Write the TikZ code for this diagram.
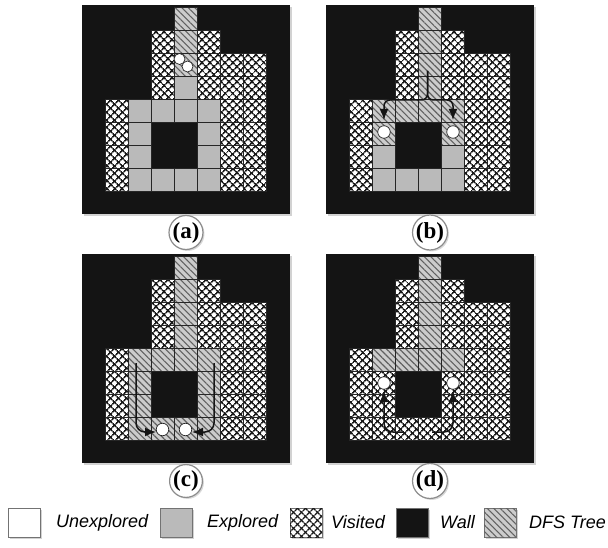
\documentclass[tikz,border=0pt]{standalone}
\usepackage{fontspec}
\setmainfont{Liberation Serif}
\newfontfamily\legfont{Liberation Sans}
\usetikzlibrary{patterns.meta,shadows,arrows.meta}
\tikzset{
  panelbox/.style={fill=black!92, minimum width=208pt, minimum height=209pt, inner sep=0pt,
    drop shadow={shadow xshift=2pt, shadow yshift=-2pt, opacity=0.35}},
  vis/.style={fill=white,
    postaction={pattern={Lines[angle=45,distance=5.4pt,line width=1.6pt]}, pattern color=black!90},
    postaction={pattern={Lines[angle=-45,distance=5.4pt,line width=1.6pt]}, pattern color=black!90}},
  dfs/.style={fill=black!20,
    postaction={pattern={Lines[angle=-45,distance=4.6pt,line width=1.1pt]}, pattern color=black!62}},
  expl/.style={fill=black!27},
  gridln/.style={draw=black!85, line width=0.7pt},
  agent/.style={circle, draw=black!85, fill=white, line width=0.7pt, minimum size=12.5pt, inner sep=0pt},
  arr/.style={line width=1.5pt, draw=black!92, rounded corners=6pt, -{Latex[length=11pt,width=9pt]}},
  lab/.style={circle, draw=black!45, line width=1.2pt, fill=white, minimum size=31pt, inner sep=0pt,
    font=\fontsize{23}{25}\selectfont\bfseries,
    drop shadow={shadow xshift=1.5pt, shadow yshift=-1.5pt, opacity=0.3}},
  legbox/.style={minimum width=32pt, minimum height=29pt, inner sep=0pt, draw=black!55, line width=0.8pt,
    drop shadow={shadow xshift=1.5pt, shadow yshift=-1.5pt, opacity=0.35}},
  legtext/.style={anchor=west, inner sep=0pt, font=\legfont\itshape\fontsize{18}{20}\selectfont},
}
\def\commoncells{3/0/dfs, 2/1/vis, 3/1/dfs, 4/1/vis, 2/2/vis, 3/2/dfs, 4/2/vis, 5/2/vis, 6/2/vis,
  2/3/vis, 4/3/vis, 5/3/vis, 6/3/vis, 0/4/vis, 5/4/vis, 6/4/vis, 0/5/vis, 5/5/vis, 6/5/vis,
  0/6/vis, 5/6/vis, 6/6/vis, 0/7/vis, 5/7/vis, 6/7/vis}
\newcommand\drawpanel[4]{%
  \node[panelbox] (#1) at ({#2+104},{#3+104.5}) {};
  \edef\allcells{\commoncells, #4}%
  \foreach \px/\py/\pk in \allcells {
    \path[\pk] ({#2+23+\px*23},{#3+2.5+\py*23}) rectangle ++(23,23);
  }
  \foreach \px/\py/\pk in \allcells {
    \path[gridln] ({#2+23+\px*23},{#3+2.5+\py*23}) rectangle ++(23,23);
  }
}
\begin{document}
\begin{tikzpicture}[x=1pt,y=-1pt]
\fill[white] (0,0) rectangle (608,548);
\useasboundingbox (0,0) rectangle (608,548);

% panels
\drawpanel{panelA}{82}{5}{3/3/expl, 1/4/expl, 2/4/expl, 3/4/expl, 4/4/expl, 1/5/expl, 4/5/expl, 1/6/expl, 4/6/expl, 1/7/expl, 2/7/expl, 3/7/expl, 4/7/expl}
\drawpanel{panelB}{326}{5}{3/3/dfs, 1/4/dfs, 2/4/dfs, 3/4/dfs, 4/4/dfs, 1/5/dfs, 4/5/dfs, 1/6/expl, 4/6/expl, 1/7/expl, 2/7/expl, 3/7/expl, 4/7/expl}
\drawpanel{panelC}{82}{254}{3/3/dfs, 1/4/dfs, 2/4/dfs, 3/4/dfs, 4/4/dfs, 1/5/dfs, 4/5/dfs, 1/6/dfs, 4/6/dfs, 1/7/dfs, 2/7/dfs, 3/7/dfs, 4/7/dfs}
\drawpanel{panelD}{326}{254}{3/3/dfs, 1/4/dfs, 2/4/dfs, 3/4/dfs, 4/4/dfs, 1/5/vis, 4/5/vis, 1/6/vis, 4/6/vis, 1/7/vis, 2/7/vis, 3/7/vis, 4/7/vis}

% agents
\node[agent, minimum size=11pt] (a1) at (179.5,59) {};
\node[agent, minimum size=11pt] (a2) at (187.5,66.5) {};
\node[agent] (b1) at (384,132) {};
\node[agent] (b2) at (453,132) {};
\node[agent] (c1) at (162.5,429.5) {};
\node[agent] (c2) at (185.5,429.5) {};
\node[agent] (d1) at (384,383) {};
\node[agent] (d2) at (453,383) {};

% arrows (b)
\coordinate (bS) at (427.5,71);
\coordinate (bL) at (384,120);
\coordinate (bR) at (453,120);
\draw[arr] (bS) -- (427.5,100) -- (384,100) -- (bL);
\draw[arr] (bS) -- (427.5,100) -- (453,100) -- (bR);
% arrows (c)
\coordinate (cL) at (136,363);
\coordinate (cR) at (214,363);
\coordinate (cLe) at (156,432);
\coordinate (cRe) at (192,432);
\draw[arr, rounded corners=9pt] (cL) -- (136,432) -- (cLe);
\draw[arr, rounded corners=9pt] (cR) -- (214,432) -- (cRe);
% arrows (d)
\coordinate (dL) at (403,432);
\coordinate (dR) at (432,432);
\coordinate (dLe) at (384,391);
\coordinate (dRe) at (453,391);
\draw[arr, rounded corners=9pt] (dL) -- (384,432) -- (dLe);
\draw[arr, rounded corners=9pt] (dR) -- (453,432) -- (dRe);

% labels
\node[lab] (la) at (186,232.5) {(a)};
\node[lab] (lb) at (430,232.5) {(b)};
\node[lab] (lc) at (186,481) {(c)};
\node[lab] (ld) at (430,481) {(d)};

% legend
\node[legbox, fill=white] (k1) at (24,522.5) {};
\node[legtext] (t1) at (56,522.5) {Unexplored};
\node[legbox, expl] (k2) at (176,522.5) {};
\node[legtext] (t2) at (207,522.5) {Explored};
\node[legbox, vis] (k3) at (306,522.5) {};
\node[legtext] (t3) at (331,522.5) {Visited};
\node[legbox, fill=black!92] (k4) at (412,522.5) {};
\node[legtext] (t4) at (440,522.5) {Wall};
\node[legbox, dfs] (k5) at (500,522.5) {};
\node[legtext] (t5) at (529,522.5) {DFS Tree};
\end{tikzpicture}
\end{document}
